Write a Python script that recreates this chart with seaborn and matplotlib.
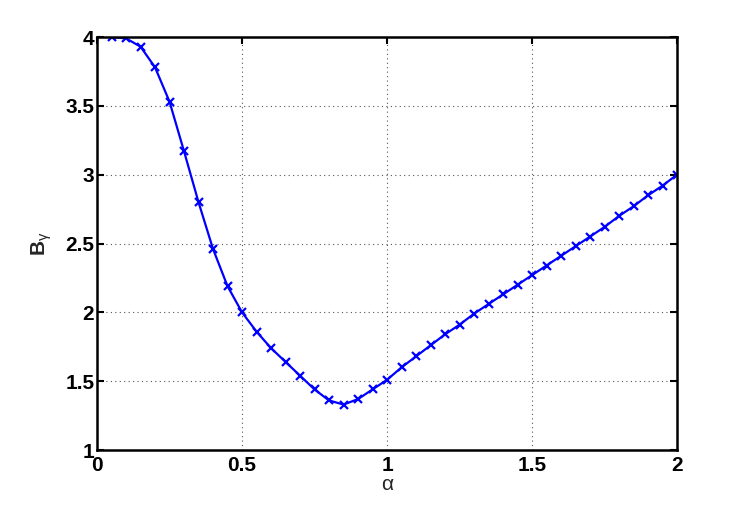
import numpy as np
import pandas as pd
import matplotlib
matplotlib.use('Agg')
import matplotlib.pyplot as plt
import seaborn as sns

# значения alpha и B_gamma
alpha = [0.05, 0.10, 0.15, 0.20, 0.25, 0.30, 0.35, 0.40, 0.45, 0.50,
         0.55, 0.60, 0.65, 0.70, 0.75, 0.80, 0.85, 0.90, 0.95, 1.00,
         1.05, 1.10, 1.15, 1.20, 1.25, 1.30, 1.35, 1.40, 1.45, 1.50,
         1.55, 1.60, 1.65, 1.70, 1.75, 1.80, 1.85, 1.90, 1.95, 2.00]
b_gamma = [4.00, 3.99, 3.93, 3.78, 3.53, 3.17, 2.80, 2.46, 2.19, 2.00,
           1.86, 1.74, 1.64, 1.54, 1.44, 1.36, 1.33, 1.37, 1.44, 1.51,
           1.60, 1.68, 1.76, 1.84, 1.91, 1.99, 2.06, 2.13, 2.20, 2.27,
           2.34, 2.41, 2.48, 2.55, 2.62, 2.70, 2.77, 2.85, 2.92, 3.00]
x_ticks = [0, 0.5, 1, 1.5, 2]
y_ticks = [1, 1.5, 2, 2.5, 3, 3.5, 4]
x_labels = ['0', '0.5', '1', '1.5', '2']
y_labels = ['1', '1.5', '2', '2.5', '3', '3.5', '4']

df = pd.DataFrame({'alpha': alpha, 'B': b_gamma})

sns.set_style('white')
plt.rcParams['font.family'] = ['Liberation Sans', 'DejaVu Sans']
plt.rcParams['mathtext.fontset'] = 'custom'
plt.rcParams['mathtext.rm'] = 'Liberation Sans'
plt.rcParams['mathtext.bf'] = 'Liberation Sans:bold'
plt.rcParams['mathtext.it'] = 'Liberation Sans:italic'

fig = plt.figure(figsize=(7.47, 5.05), dpi=100)
ax = fig.add_axes([0.1299, 0.1089, 0.7764, 0.8178])

sns.lineplot(data=df, x='alpha', y='B', ax=ax, color='#0000ff', linewidth=1.6,
             marker='x', markersize=5.5, markeredgewidth=1.6, markeredgecolor='#0000ff')

ax.set_xlim(0, 2)
ax.set_ylim(1, 4)
ax.set_xticks(x_ticks)
ax.set_yticks(y_ticks)
ax.set_xticklabels(x_labels)
ax.set_yticklabels(y_labels)
for lbl in ax.get_xticklabels() + ax.get_yticklabels():
    lbl.set_fontweight('bold')
    lbl.set_fontsize(15)

ax.grid(True, linestyle=(0, (1, 3)), color='#555555', linewidth=0.8)
ax.tick_params(axis='x', direction='in', length=5, width=1.5, top=True,
               pad=4, colors='black')
ax.tick_params(axis='y', direction='in', length=5, width=1.5, right=True,
               pad=2, colors='black')
ax.tick_params(axis='y', which='major', left=True)
for s in ax.spines.values():
    s.set_linewidth(1.8)
    s.set_color('black')

ax.set_xlabel('α', fontsize=15, labelpad=0)
ax.set_ylabel(r'$\mathbf{B}_{\mathrm{γ}}$', fontsize=15, labelpad=8)

fig.savefig('out.png', dpi=100)
